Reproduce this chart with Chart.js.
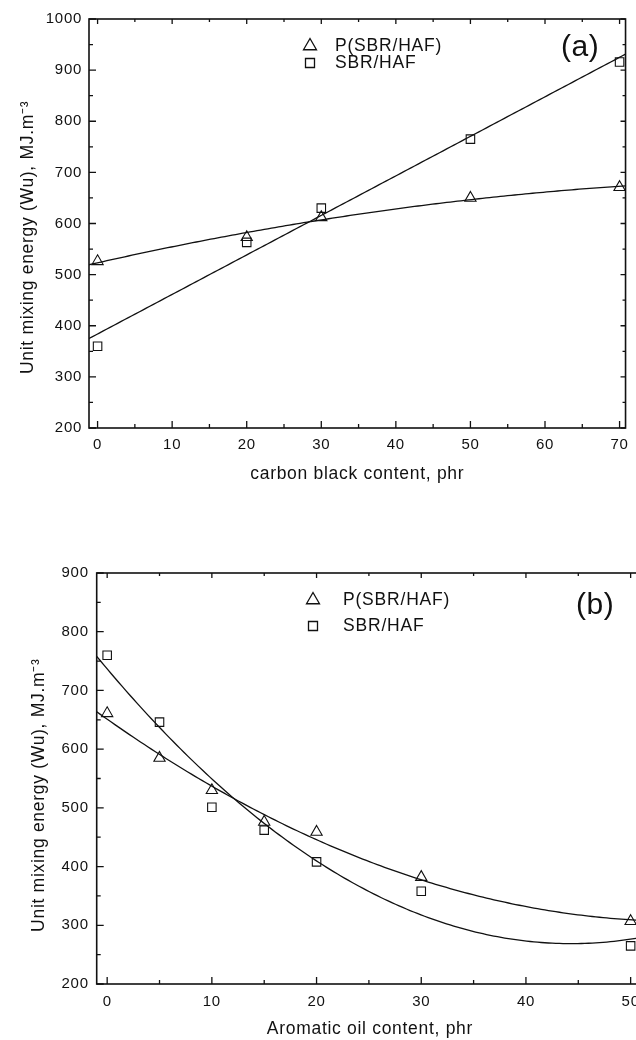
<!DOCTYPE html>
<html><head><meta charset="utf-8">
<script src="https://cdn.jsdelivr.net/npm/chart.js@4.4.1/dist/chart.umd.min.js"></script>
<style>
html,body{margin:0;padding:0;background:#fff;overflow:hidden;width:636px;height:1040px;position:relative;}
#ca{position:absolute;left:0;top:0;}
#cb{position:absolute;left:0;top:545px;}
</style></head><body>
<canvas id="ca" width="636" height="490"></canvas>
<canvas id="cb" width="652" height="495"></canvas>
<script>
// ---- data ----
const seriesNames = ['P(SBR/HAF)', 'SBR/HAF'];
// panel (a)
const carbonBlack = [0, 20, 30, 50, 70];
const pSbrHafA = [526, 573, 612, 650, 671];
const sbrHafA = [360, 563, 630, 765, 916];
const xTicksA = [0, 10, 20, 30, 40, 50, 60, 70];
const yTicksA = [200, 300, 400, 500, 600, 700, 800, 900, 1000];
// panel (b)
const aromaticOil = [0, 5, 10, 15, 20, 30, 50];
const pSbrHafB = [661, 585, 530, 476, 459, 382, 307];
const sbrHafB = [760, 646, 501, 462, 408, 358, 265];
const xTicksB = [0, 10, 20, 30, 40, 50];
const yTicksB = [200, 300, 400, 500, 600, 700, 800, 900];

const FONT = '"Liberation Sans", Arial, Helvetica, sans-serif';
Chart.defaults.font.family = FONT;
Chart.defaults.color = '#111';

function polyFit(xs, ys, deg) {
  const n = deg + 1;
  const A = Array.from({length: n}, () => Array(n + 1).fill(0));
  for (let i = 0; i < xs.length; i++) {
    for (let r = 0; r < n; r++) {
      for (let c = 0; c < n; c++) A[r][c] += Math.pow(xs[i], r + c);
      A[r][n] += ys[i] * Math.pow(xs[i], r);
    }
  }
  for (let k = 0; k < n; k++) {
    let p = k;
    for (let r = k + 1; r < n; r++) if (Math.abs(A[r][k]) > Math.abs(A[p][k])) p = r;
    [A[k], A[p]] = [A[p], A[k]];
    for (let r = 0; r < n; r++) {
      if (r === k) continue;
      const f = A[r][k] / A[k][k];
      for (let c = k; c <= n; c++) A[r][c] -= f * A[k][c];
    }
  }
  return A.map((row, k) => row[n] / row[k]);
}
function fitCurve(xs, ys, deg, x0, x1) {
  const c = polyFit(xs, ys, deg);
  const pts = [];
  const N = 150;
  for (let i = 0; i <= N; i++) {
    const x = x0 + (x1 - x0) * i / N;
    pts.push({x, y: c.reduce((s, ci, j) => s + ci * Math.pow(x, j), 0)});
  }
  return pts;
}
const toPts = (xs, ys) => xs.map((x, i) => ({x, y: ys[i]}));

function framePlugin(cfg) {
  return {
    id: 'frame',
    beforeDraw(chart) { chart.ctx.letterSpacing = '0.7px'; },
    afterDraw(chart) {
      const ctx = chart.ctx, a = chart.chartArea, xs = chart.scales.x, ys = chart.scales.y;
      ctx.save();
      ctx.strokeStyle = '#111';
      ctx.lineWidth = 1.6;
      ctx.strokeRect(a.left, a.top, a.right - a.left, a.bottom - a.top);
      ctx.lineWidth = 1.3;
      ctx.beginPath();
      const mids = arr => arr.slice(1).map((v, i) => (v + arr[i]) / 2);
      const xTick = (v, L, Lt) => {
        const px = xs.getPixelForValue(v);
        ctx.moveTo(px, a.bottom); ctx.lineTo(px, a.bottom - L);
        ctx.moveTo(px, a.top); ctx.lineTo(px, a.top + Lt);
      };
      const yTick = (v, L, Lr) => {
        const py = ys.getPixelForValue(v);
        ctx.moveTo(a.left, py); ctx.lineTo(a.left + L, py);
        ctx.moveTo(a.right, py); ctx.lineTo(a.right - Lr, py);
      };
      cfg.xt.forEach(v => xTick(v, 7, 5));
      mids(cfg.xt).forEach(v => xTick(v, 4, 3));
      cfg.yt.forEach(v => yTick(v, 7, 5));
      mids(cfg.yt).forEach(v => yTick(v, 4, 3));
      ctx.stroke();

      // legend inside the plot
      ctx.lineWidth = 1.3;
      const lg = cfg.legend;
      let r = 7.5, cx = lg.mx, cy = lg.y1;
      ctx.beginPath();
      ctx.moveTo(cx, cy - r);
      ctx.lineTo(cx + r * 0.866, cy + r * 0.5);
      ctx.lineTo(cx - r * 0.866, cy + r * 0.5);
      ctx.closePath();
      ctx.stroke();
      const s = 4.5;
      ctx.beginPath();
      ctx.rect(lg.mx - s, lg.y2 - s, 2 * s, 2 * s);
      ctx.stroke();
      ctx.fillStyle = '#111';
      ctx.letterSpacing = '0.8px';
      ctx.font = '17.5px ' + FONT;
      ctx.textBaseline = 'middle';
      ctx.textAlign = 'left';
      ctx.fillText(seriesNames[0], lg.tx, lg.y1);
      ctx.fillText(seriesNames[1], lg.tx, lg.y2);
      ctx.font = '30px ' + FONT;
      ctx.letterSpacing = '0.5px';
      ctx.fillText(cfg.panel.text, cfg.panel.x, cfg.panel.y);
      ctx.restore();
    }
  };
}

function makeChart(id, cfg) {
  const line = {showLine: true, pointRadius: 0, borderColor: '#111', borderWidth: 1.3, fill: false, tension: 0};
  return new Chart(document.getElementById(id), {
    type: 'scatter',
    data: {
      datasets: [
        {label: seriesNames[0], data: toPts(cfg.x, cfg.p), pointStyle: 'triangle', pointRadius: 6.5,
         borderColor: '#111', backgroundColor: 'rgba(0,0,0,0)', pointBorderWidth: 1.1, showLine: false},
        {label: seriesNames[1], data: toPts(cfg.x, cfg.s), pointStyle: 'rect', pointRadius: 6,
         borderColor: '#111', backgroundColor: 'rgba(0,0,0,0)', pointBorderWidth: 1.1, showLine: false},
        Object.assign({label: 'fit ' + seriesNames[0], data: fitCurve(cfg.x, cfg.p, cfg.degP, cfg.xmin, cfg.xmax)}, line),
        Object.assign({label: 'fit ' + seriesNames[1], data: fitCurve(cfg.x, cfg.s, cfg.degS, cfg.xmin, cfg.xmax)}, line)
      ]
    },
    options: {
      responsive: false,
      animation: false,
      events: [],
      layout: {padding: {left: 0, right: cfg.padR, top: cfg.padT, bottom: 0}},
      plugins: {legend: {display: false}, tooltip: {enabled: false}},
      scales: {
        x: {
          type: 'linear', min: cfg.xmin, max: cfg.xmax,
          afterBuildTicks: sc => { sc.ticks = cfg.xt.map(v => ({value: v})); },
          afterFit: sc => { sc.height = cfg.xH; },
          grid: {display: false, drawTicks: false},
          border: {display: false},
          ticks: {padding: cfg.xTickPad, font: {size: 15}, color: '#111', maxRotation: 0, autoSkip: false,
                  callback: v => String(v)},
          title: {display: true, text: cfg.xTitle, font: {size: 17.5}, color: '#111', padding: {top: 0, bottom: cfg.xTitlePB}}
        },
        y: {
          type: 'linear', min: cfg.yt[0], max: cfg.yt[cfg.yt.length - 1],
          afterBuildTicks: sc => { sc.ticks = cfg.yt.map(v => ({value: v})); },
          afterFit: sc => { sc.width = cfg.yW; },
          grid: {display: false, drawTicks: false},
          border: {display: false},
          ticks: {padding: cfg.yTickPad, font: {size: 15}, color: '#111', autoSkip: false,
                  callback: v => String(v)},
          title: {display: true, text: 'Unit mixing energy (Wu), MJ.m\u207B\u00B3' + cfg.yTitleTail,
                  font: {size: 17.5}, color: '#111', padding: {top: cfg.yTitlePT, bottom: 0}}
        }
      }
    },
    plugins: [framePlugin(cfg)]
  });
}

makeChart('ca', {
  x: carbonBlack, p: pSbrHafA, s: sbrHafA, degP: 2, degS: 1,
  xmin: -1.15, xmax: 70.8, xt: xTicksA, yt: yTicksA,
  padR: 3, padT: 19, xH: 62, yW: 89,
  xTickPad: 8, xTitlePB: 5, yTickPad: 7, yTitlePT: 18,
  xTitle: 'carbon black content, phr', yTitleTail: '     ',
  legend: {mx: 310, y1: 46, y2: 63, tx: 335},
  panel: {text: '(a)', x: 561, y: 48}
});
makeChart('cb', {
  x: aromaticOil, p: pSbrHafB, s: sbrHafB, degP: 2, degS: 2,
  xmin: -1.0, xmax: 51.2, xt: xTicksB, yt: yTicksB,
  padR: 8.8, padT: 28, xH: 56, yW: 96.7,
  xTickPad: 9, xTitlePB: 0, yTickPad: 8, yTitlePT: 29,
  xTitle: 'Aromatic oil content, phr', yTitleTail: '      ',
  legend: {mx: 313, y1: 55, y2: 81, tx: 343},
  panel: {text: '(b)', x: 576, y: 61}
});
</script>
</body></html>
